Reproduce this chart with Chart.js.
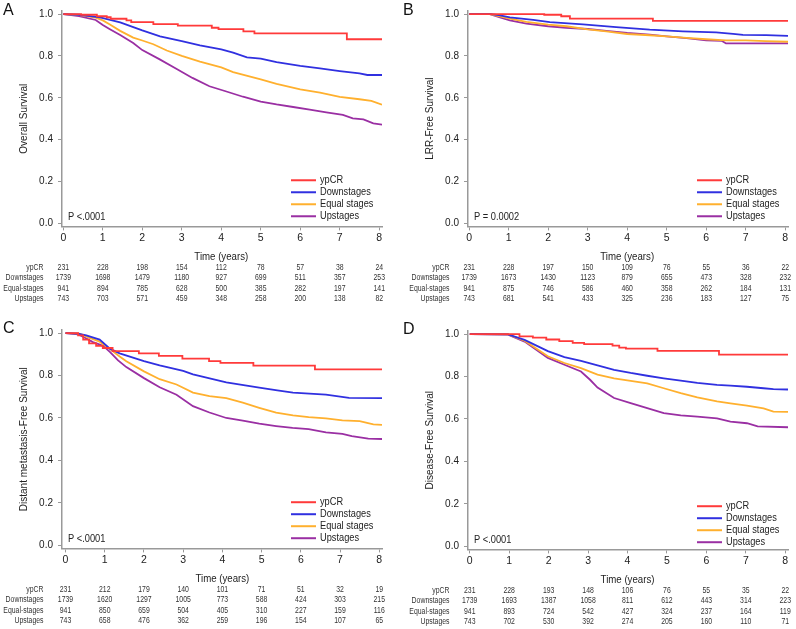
<!DOCTYPE html>
<html><head><meta charset="utf-8">
<script src="https://cdn.jsdelivr.net/npm/chart.js@4"></script>
<style>
body{margin:0;background:#fff;width:796px;height:629px;overflow:hidden;position:relative}
canvas{position:absolute}
</style>
</head><body>
<canvas id="cA"></canvas><canvas id="cB"></canvas><canvas id="cC"></canvas><canvas id="cD"></canvas>
<script>
// ---------- categories / ticks ----------
const groups = ['ypCR', 'Downstages', 'Equal stages', 'Upstages'];
const tableLabels = ['ypCR', 'Downstages', 'Equal-stages', 'Upstages'];
const timeTicks = [0, 1, 2, 3, 4, 5, 6, 7, 8];
const survTicks = [0, 0.2, 0.4, 0.6, 0.8, 1.0];

// ---------- Panel A: Overall Survival  [time (years), survival] ----------
const osYpCR = [[0,1],[0.45,0.997],[0.85,0.99],[1.1,0.985],[1.2,0.978],[1.6,0.97],[1.72,0.962],[2.28,0.952],[2.9,0.945],[3.76,0.935],[3.93,0.928],[4.56,0.918],[4.84,0.908],[7.18,0.88],[8.07,0.88]];
const osDown = [[0,1],[0.4,0.997],[0.93,0.985],[1.44,0.961],[2,0.922],[2.45,0.894],[3,0.871],[3.46,0.851],[4,0.831],[4.3,0.816],[4.65,0.793],[5,0.787],[5.4,0.77],[6,0.753],[6.5,0.741],[7,0.728],[7.5,0.717],[7.7,0.709],[8.07,0.709]];
const osEqual = [[0,1],[0.42,0.995],[0.82,0.983],[1.0,0.97],[1.18,0.95],[1.44,0.92],[1.77,0.888],[2,0.874],[2.28,0.856],[2.62,0.826],[3,0.8],[3.46,0.773],[4,0.745],[4.3,0.723],[5,0.688],[5.4,0.667],[6,0.64],[6.5,0.625],[7,0.604],[7.5,0.593],[7.8,0.585],[8.07,0.567]];
const osUp = [[0,1],[0.4,0.99],[0.82,0.972],[1.0,0.948],[1.18,0.928],[1.44,0.9],[1.77,0.862],[2,0.828],[2.43,0.785],[2.85,0.74],[3.27,0.695],[3.7,0.655],[4.13,0.63],[4.55,0.605],[5,0.582],[5.4,0.568],[5.82,0.556],[6.24,0.543],[6.66,0.53],[7.08,0.518],[7.33,0.502],[7.6,0.497],[7.85,0.478],[8.07,0.472]];
const osRiskYpCR = [231,228,198,154,112,78,57,38,24];
const osRiskDown = [1739,1698,1479,1180,927,699,511,357,253];
const osRiskEqual = [941,894,785,628,500,385,282,197,141];
const osRiskUp = [743,703,571,459,348,258,200,138,82];

// ---------- Panel B: LRR-Free Survival ----------
const lrrYpCR = [[0,1],[1.9,0.997],[2.33,0.99],[2.55,0.979],[4.65,0.968],[8.07,0.968]];
const lrrDown = [[0,1],[0.55,1],[0.75,0.995],[1.03,0.984],[1.62,0.973],[2.04,0.962],[2.88,0.951],[3.72,0.938],[4.57,0.926],[5.41,0.918],[6.25,0.913],[6.68,0.906],[6.93,0.901],[7.52,0.9],[8.07,0.896]];
const lrrEqual = [[0,1],[0.52,1],[0.75,0.99],[1.03,0.978],[1.45,0.963],[2,0.95],[2.46,0.942],[3,0.927],[3.47,0.918],[4,0.905],[4.57,0.899],[5,0.894],[5.5,0.886],[6,0.88],[6.5,0.875],[7,0.875],[7.5,0.871],[8.07,0.868]];
const lrrUp = [[0,1],[0.52,1],[0.78,0.985],[1.03,0.97],[1.45,0.955],[2,0.942],[2.46,0.935],[3,0.929],[3.47,0.92],[4,0.91],[4.57,0.902],[5,0.894],[5.5,0.885],[6,0.875],[6.4,0.872],[6.5,0.86],[8.07,0.86]];
const lrrRiskYpCR = [231,228,197,150,109,76,55,36,22];
const lrrRiskDown = [1739,1673,1430,1123,879,655,473,328,232];
const lrrRiskEqual = [941,875,746,586,460,358,262,184,131];
const lrrRiskUp = [743,681,541,433,325,236,183,127,75];

// ---------- Panel C: Distant metastasis-Free Survival ----------
const dmYpCR = [[0,1],[0.32,0.99],[0.45,0.97],[0.6,0.952],[0.78,0.94],[0.95,0.93],[1.2,0.915],[1.87,0.905],[2.38,0.893],[2.98,0.88],[3.66,0.868],[3.95,0.86],[4.79,0.847],[6.36,0.829],[8.07,0.829]];
const dmDown = [[0,1],[0.32,0.998],[0.53,0.99],[0.87,0.97],[1.13,0.927],[1.38,0.905],[1.72,0.885],[2,0.868],[2.4,0.848],[3,0.822],[3.25,0.806],[4.1,0.768],[4.5,0.756],[4.94,0.743],[5.4,0.73],[5.8,0.72],[6.64,0.71],[7.23,0.695],[8.07,0.694]];
const dmEqual = [[0,1],[0.35,0.998],[0.62,0.978],[0.87,0.96],[1.13,0.925],[1.38,0.89],[1.55,0.868],[2,0.82],[2.4,0.783],[2.83,0.758],[3.25,0.72],[3.67,0.703],[4.1,0.694],[4.52,0.672],[4.94,0.648],[5.37,0.625],[5.8,0.612],[6.2,0.604],[6.64,0.598],[7.06,0.589],[7.5,0.585],[7.85,0.57],[8.07,0.568]];
const dmUp = [[0,1],[0.32,0.995],[0.53,0.975],[0.7,0.958],[0.96,0.94],[1.13,0.912],[1.34,0.872],[1.55,0.84],[2,0.788],[2.4,0.745],[2.83,0.71],[3.25,0.656],[3.67,0.626],[4.1,0.6],[4.52,0.588],[4.94,0.573],[5.37,0.562],[5.79,0.553],[6.2,0.548],[6.64,0.532],[7.06,0.525],[7.3,0.514],[7.72,0.503],[8.07,0.501]];
const dmRiskYpCR = [231,212,179,140,101,71,51,32,19];
const dmRiskDown = [1739,1620,1297,1005,773,588,424,303,215];
const dmRiskEqual = [941,850,659,504,405,310,227,159,116];
const dmRiskUp = [743,658,476,362,259,196,154,107,65];

// ---------- Panel D: Disease-Free Survival ----------
const dfsYpCR = [[0,1],[1.0,1],[1.26,0.99],[1.6,0.984],[1.94,0.975],[2.27,0.967],[2.61,0.959],[2.9,0.953],[3.62,0.946],[3.79,0.937],[3.96,0.932],[4.76,0.921],[6.32,0.904],[8.07,0.904]];
const dfsDown = [[0,1],[0.97,0.999],[1.39,0.973],[1.98,0.92],[2.4,0.892],[2.82,0.874],[3.24,0.853],[3.66,0.832],[4.08,0.817],[4.5,0.804],[4.92,0.792],[5.35,0.781],[5.77,0.77],[6.27,0.761],[6.61,0.757],[7.03,0.752],[7.45,0.745],[7.7,0.741],[8.07,0.739]];
const dfsEqual = [[0,1],[0.97,0.999],[1.39,0.969],[1.98,0.896],[2.4,0.864],[2.82,0.84],[3.24,0.809],[3.66,0.792],[4.08,0.78],[4.5,0.768],[4.92,0.745],[5.35,0.722],[5.77,0.702],[6.27,0.683],[6.61,0.674],[7.03,0.663],[7.45,0.65],[7.7,0.635],[8.07,0.634]];
const dfsUp = [[0,1],[0.97,0.998],[1.39,0.965],[1.98,0.888],[2.4,0.856],[2.82,0.824],[3.05,0.785],[3.24,0.748],[3.66,0.699],[4.08,0.675],[4.5,0.651],[4.92,0.628],[5.35,0.617],[5.77,0.611],[6.27,0.603],[6.61,0.588],[7.03,0.58],[7.3,0.565],[8.07,0.561]];
const dfsRiskYpCR = [231,228,193,148,106,76,55,35,22];
const dfsRiskDown = [1739,1693,1387,1058,811,612,443,314,223];
const dfsRiskEqual = [941,893,724,542,427,324,237,164,119];
const dfsRiskUp = [743,702,530,392,274,205,160,110,71];

// ---------- panel texts ----------
const panelLetters = ['A', 'B', 'C', 'D'];
const panelYTitles = ['Overall Survival', 'LRR-Free Survival', 'Distant metastasis-Free Survival', 'Disease-Free Survival'];
const panelPTexts = ['P <.0001', 'P = 0.0002', 'P <.0001', 'P <.0001'];

// ---------- styles / layout ----------
const seriesColors = ['#ff3a3a', '#3030e0', '#ffb02e', '#9a2fa3'];
const FF = '"Liberation Sans", Arial, Helvetica, sans-serif';
const layouts = [
  {id:'cA', left:0,   top:0,   w:398, h:312, plotTop:8,  axisX:62, xMin:-0.033, letterX:3, letterY:10.5, legendDy:[-43,-31,-19,-7]},
  {id:'cB', left:398, top:0,   w:398, h:312, plotTop:8,  axisX:70, xMin:-0.03,  letterX:5, letterY:10.5, legendDy:[-43,-31,-19,-7]},
  {id:'cC', left:0,   top:312, w:398, h:317, plotTop:18, axisX:62, xMin:-0.09,  letterX:3, letterY:16.5, legendDy:[-43,-31,-19,-7]},
  {id:'cD', left:398, top:313, w:398, h:316, plotTop:18, axisX:70, xMin:-0.045, letterX:5, letterY:16.5, legendDy:[-40,-28,-16,-4]}
];
const tableDy = [44, 54.5, 65, 75.5];

const panelCurves = [
  [osYpCR, osDown, osEqual, osUp],
  [lrrYpCR, lrrDown, lrrEqual, lrrUp],
  [dmYpCR, dmDown, dmEqual, dmUp],
  [dfsYpCR, dfsDown, dfsEqual, dfsUp]
];
const panelRisk = [
  [osRiskYpCR, osRiskDown, osRiskEqual, osRiskUp],
  [lrrRiskYpCR, lrrRiskDown, lrrRiskEqual, lrrRiskUp],
  [dmRiskYpCR, dmRiskDown, dmRiskEqual, dmRiskUp],
  [dfsRiskYpCR, dfsRiskDown, dfsRiskEqual, dfsRiskUp]
];

const PLOT_W = 320, PLOT_H = 218.4, X_MAX = 8.07, Y_MIN = -0.015, Y_MAX = 1.015;

// text drawn slightly condensed horizontally, like the reference figure
function sText(ctx, txt, x, y, align, size, sx, color) {
  ctx.save();
  ctx.translate(x, y);
  ctx.scale(sx, 1);
  ctx.font = size + 'px ' + FF;
  ctx.textAlign = align;
  ctx.textBaseline = 'middle';
  ctx.fillStyle = color;
  ctx.fillText(txt, 0, 0);
  ctx.restore();
}

function buildPanel(k) {
  const L = layouts[k];
  const cv = document.getElementById(L.id);
  cv.width = L.w; cv.height = L.h;
  cv.style.left = L.left + 'px'; cv.style.top = L.top + 'px';

  const overlay = {
    id: 'overlay' + k,
    afterDraw(chart) {
      const ctx = chart.ctx, ca = chart.chartArea;
      const xs = chart.scales.x, ys = chart.scales.y;
      const y0 = ys.getPixelForValue(0), y1 = ys.getPixelForValue(1);
      // panel letter
      sText(ctx, panelLetters[k], L.letterX, L.letterY, 'left', 16, 1, '#111');
      // p value
      sText(ctx, panelPTexts[k], ca.left + 6, y0 - 6, 'left', 10.8, 0.86, '#222');
      // legend
      groups.forEach((g, i) => {
        const ly = y0 + L.legendDy[i];
        ctx.save();
        ctx.strokeStyle = seriesColors[i];
        ctx.lineWidth = 2;
        ctx.beginPath();
        ctx.moveTo(ca.right - 91, ly);
        ctx.lineTo(ca.right - 66, ly);
        ctx.stroke();
        ctx.restore();
        sText(ctx, g, ca.right - 62, ly, 'left', 11, 0.84, '#222');
      });
      // x axis title
      sText(ctx, 'Time (years)', xs.getPixelForValue(4), y0 + 33.5, 'center', 11.5, 0.84, '#222');
      // number at risk table
      panelRisk[k].forEach((row, r) => {
        const ry = y0 + tableDy[r];
        sText(ctx, tableLabels[r], ca.left - 18.5, ry, 'right', 8.3, 0.83, '#333');
        row.forEach((n, c) => sText(ctx, String(n), xs.getPixelForValue(timeTicks[c]), ry, 'center', 8.3, 0.83, '#333'));
      });
      // y axis title
      ctx.save();
      ctx.translate(ca.left - 37.5, (y0 + y1) / 2);
      ctx.rotate(-Math.PI / 2);
      ctx.textAlign = 'center';
      ctx.textBaseline = 'middle';
      ctx.fillStyle = '#222';
      ctx.font = '10px ' + FF;
      ctx.fillText(panelYTitles[k], 0, 0);
      ctx.restore();
    }
  };

  new Chart(cv, {
    type: 'line',
    data: {
      datasets: groups.map((g, i) => ({
        label: g,
        data: panelCurves[k][i].map(p => ({x: p[0], y: p[1]})),
        borderColor: seriesColors[i],
        backgroundColor: seriesColors[i],
        borderWidth: 1.8,
        pointRadius: 0,
        pointHoverRadius: 0,
        stepped: i === 0,
        tension: 0,
        fill: false
      }))
    },
    options: {
      responsive: false,
      animation: false,
      devicePixelRatio: 1,
      events: [],
      layout: {padding: {left: 0, right: L.w - L.axisX - PLOT_W, top: L.plotTop, bottom: 0}},
      plugins: {legend: {display: false}, tooltip: {enabled: false}},
      scales: {
        x: {
          type: 'linear', min: L.xMin, max: X_MAX,
          afterBuildTicks(s) { s.ticks = timeTicks.map(v => ({value: v})); },
          afterFit(s) { s.height = L.h - L.plotTop - PLOT_H; },
          ticks: {color: '#222', font: {size: 10.5, family: FF}, padding: 1.5, maxRotation: 0, autoSkip: false, callback: v => String(v)},
          grid: {display: true, drawOnChartArea: false, drawTicks: true, tickLength: 4, color: '#999', lineWidth: 1},
          border: {display: true, color: '#999', width: 1.5}
        },
        y: {
          type: 'linear', min: Y_MIN, max: Y_MAX,
          afterBuildTicks(s) { s.ticks = survTicks.map(v => ({value: v})); },
          afterFit(s) { s.width = L.axisX; },
          ticks: {color: '#222', font: {size: 10, family: FF}, padding: 5, callback: v => Number(v).toFixed(1)},
          grid: {display: true, drawOnChartArea: false, drawTicks: true, tickLength: 4, color: '#999', lineWidth: 1},
          border: {display: true, color: '#999', width: 1.5}
        }
      }
    },
    plugins: [overlay]
  });
}
for (let k = 0; k < 4; k++) buildPanel(k);
</script>
</body></html>
